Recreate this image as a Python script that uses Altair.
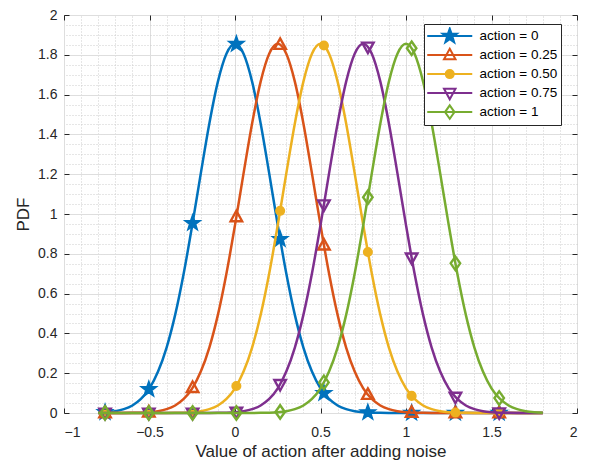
import altair as alt
import pandas as pd

# ---------------- data ----------------
x_curve = [-0.80, -0.75, -0.70, -0.65, -0.60, -0.55, -0.50, -0.45, -0.40, -0.35,
           -0.30, -0.25, -0.20, -0.15, -0.10, -0.05, 0.00, 0.05, 0.10, 0.15,
           0.20, 0.25, 0.30, 0.35, 0.40, 0.45, 0.50, 0.55, 0.60, 0.65,
           0.70, 0.75, 0.80, 0.85, 0.90, 0.95, 1.00, 1.05, 1.10, 1.15,
           1.20, 1.25, 1.30, 1.35, 1.40, 1.45, 1.50, 1.55, 1.60, 1.65,
           1.70, 1.75, 1.80]

y_a0 = [0.0018, 0.0042, 0.0093, 0.0193, 0.0378, 0.0705, 0.124, 0.208, 0.329, 0.493,
        0.701, 0.944, 1.204, 1.455, 1.665, 1.805, 1.855, 1.805, 1.665, 1.455,
        1.204, 0.944, 0.701, 0.493, 0.329, 0.208, 0.124, 0.0705, 0.0378, 0.0193,
        0.0093, 0.0042, 0.0018, 0.0008, 0.0003, 0.0001, 0, 0, 0, 0,
        0, 0, 0, 0, 0, 0, 0, 0, 0, 0,
        0, 0, 0]
y_a025 = [0, 0, 0.0001, 0.0003, 0.0008, 0.0018, 0.0042, 0.0093, 0.0193, 0.0378,
          0.0705, 0.124, 0.208, 0.329, 0.493, 0.701, 0.944, 1.204, 1.455, 1.665,
          1.805, 1.855, 1.805, 1.665, 1.455, 1.204, 0.944, 0.701, 0.493, 0.329,
          0.208, 0.124, 0.0705, 0.0378, 0.0193, 0.0093, 0.0042, 0.0018, 0.0008, 0.0003,
          0.0001, 0, 0, 0, 0, 0, 0, 0, 0, 0,
          0, 0, 0]
y_a050 = [0, 0, 0, 0, 0, 0, 0, 0.0001, 0.0003, 0.0008,
          0.0018, 0.0042, 0.0093, 0.0193, 0.0378, 0.0705, 0.124, 0.208, 0.329, 0.493,
          0.701, 0.944, 1.204, 1.455, 1.665, 1.805, 1.855, 1.805, 1.665, 1.455,
          1.204, 0.944, 0.701, 0.493, 0.329, 0.208, 0.124, 0.0705, 0.0378, 0.0193,
          0.0093, 0.0042, 0.0018, 0.0008, 0.0003, 0.0001, 0, 0, 0, 0,
          0, 0, 0]
y_a075 = [0, 0, 0, 0, 0, 0, 0, 0, 0, 0,
          0, 0, 0.0001, 0.0003, 0.0008, 0.0018, 0.0042, 0.0093, 0.0193, 0.0378,
          0.0705, 0.124, 0.208, 0.329, 0.493, 0.701, 0.944, 1.204, 1.455, 1.665,
          1.805, 1.855, 1.805, 1.665, 1.455, 1.204, 0.944, 0.701, 0.493, 0.329,
          0.208, 0.124, 0.0705, 0.0378, 0.0193, 0.0093, 0.0042, 0.0018, 0.0008, 0.0003,
          0.0001, 0, 0]
y_a1 = [0, 0, 0, 0, 0, 0, 0, 0, 0, 0,
        0, 0, 0, 0, 0, 0, 0, 0.0001, 0.0003, 0.0008,
        0.0018, 0.0042, 0.0093, 0.0193, 0.0378, 0.0705, 0.124, 0.208, 0.329, 0.493,
        0.701, 0.944, 1.204, 1.455, 1.665, 1.805, 1.855, 1.805, 1.665, 1.455,
        1.204, 0.944, 0.701, 0.493, 0.329, 0.208, 0.124, 0.0705, 0.0378, 0.0193,
        0.0093, 0.0042, 0.0018]

marker_x = [-0.76, -0.504, -0.248, 0.008, 0.264, 0.52, 0.777, 1.033, 1.289, 1.545]
m_a0 = [0.0036, 0.119, 0.954, 1.854, 0.873, 0.0998, 0.0027, 0.0, 0.0, 0.0]
m_a025 = [0.0, 0.004, 0.127, 0.985, 1.851, 0.843, 0.0922, 0.0025, 0.0, 0.0]
m_a050 = [0.0, 0.0, 0.0044, 0.1355, 1.016, 1.847, 0.809, 0.086, 0.0022, 0.0]
m_a075 = [0.0, 0.0, 0.0, 0.0048, 0.1444, 1.047, 1.840, 0.780, 0.0802, 0.002]
m_a1 = [0.0, 0.0, 0.0, 0.0, 0.0053, 0.1536, 1.084, 1.833, 0.752, 0.0748]

labels = ["action = 0", "action = 0.25", "action = 0.50", "action = 0.75", "action = 1"]
curves = [y_a0, y_a025, y_a050, y_a075, y_a1]
markers = [m_a0, m_a025, m_a050, m_a075, m_a1]

x_major = [-1, -0.5, 0, 0.5, 1, 1.5, 2]
y_major = [0, 0.2, 0.4, 0.6, 0.8, 1, 1.2, 1.4, 1.6, 1.8, 2]

# ---------------- style ----------------
colors = ["#0072BD", "#D95319", "#EDB120", "#7E2F8E", "#77AC30"]
STAR = ("M0,-1.5L0.353,-0.485L1.427,-0.464L0.571,0.185L0.882,1.214L0,0.6"
        "L-0.882,1.214L-0.571,0.185L-1.427,-0.464L-0.353,-0.485Z")
TRI_UP = "M0,-1.25L1.15,0.85L-1.15,0.85Z"
CIRCLE = "M0.8,0A0.8,0.8,0,1,1,-0.8,0A0.8,0.8,0,1,1,0.8,0Z"
TRI_DOWN = "M0,1.25L1.15,-0.85L-1.15,-0.85Z"
DIAMOND = "M0,-1.35L0.95,0L0,1.35L-0.95,0Z"
shapes = [STAR, TRI_UP, CIRCLE, TRI_DOWN, DIAMOND]
solid = [True, False, True, False, False]
LEG_LINE = "M-4.5,0L4.5,0"
legend_shapes = [LEG_LINE + s for s in shapes]
legend_fills = [colors[i] if solid[i] else "white" for i in range(5)]

FONT = "Liberation Sans"
TXT = "#262626"
W, H = 513, 398

curve_df = pd.DataFrame({
    "x": x_curve * 5,
    "y": sum(curves, []),
    "series": [lab for lab in labels for _ in x_curve],
})
marker_df = pd.DataFrame({
    "x": marker_x * 5,
    "y": sum(markers, []),
    "series": [lab for lab in labels for _ in marker_x],
})

x_scale = alt.Scale(domain=[-1, 2], nice=False, zero=False)
y_scale = alt.Scale(domain=[0, 2], nice=False, zero=False)

# minor grid (dotted)
minor = alt.Chart(curve_df).mark_point(opacity=0).encode(
    x=alt.X("x:Q", scale=x_scale, axis=alt.Axis(
        orient="top", tickCount=30, grid=True, gridDash=[1, 2], gridColor="#cdcdcd",
        labels=False, ticks=False, domain=False, title=None)),
    y=alt.Y("y:Q", scale=y_scale, axis=alt.Axis(
        orient="right", tickCount=40, grid=True, gridDash=[1, 2], gridColor="#cdcdcd",
        labels=False, ticks=False, domain=False, title=None)),
)

# major grid + labels
major = alt.Chart(curve_df).mark_point(opacity=0).encode(
    x=alt.X("x:Q", scale=x_scale, axis=alt.Axis(
        orient="bottom", values=x_major, format="~g",
        grid=True, gridColor="#dedede", ticks=False, domain=False,
        labelFontSize=14, labelColor=TXT, labelPadding=12,
        title="Value of action after adding noise", titleFontSize=17,
        titleFontWeight="normal", titleColor=TXT, titlePadding=4)),
    y=alt.Y("y:Q", scale=y_scale, axis=alt.Axis(
        orient="left", values=y_major, format="~g",
        grid=True, gridColor="#dedede", ticks=False, domain=False,
        labelFontSize=14, labelColor=TXT, labelPadding=7,
        title="PDF", titleFontSize=17, titleFontWeight="normal", titleColor=TXT,
        titlePadding=5)),
)

# inward tick marks (MATLAB box style): axes pushed across the plot
def tick_axis(orient, values, offset):
    return alt.Axis(orient=orient, values=values, offset=offset, ticks=True, tickSize=5,
                    tickColor=TXT, tickWidth=1, labels=False, domain=False, grid=False,
                    title=None)

ticks_a = alt.Chart(curve_df).mark_point(opacity=0).encode(
    x=alt.X("x:Q", scale=x_scale, axis=tick_axis("top", x_major, -H)),
    y=alt.Y("y:Q", scale=y_scale, axis=tick_axis("right", y_major, -W)),
)
ticks_b = alt.Chart(curve_df).mark_point(opacity=0).encode(
    x=alt.X("x:Q", scale=x_scale, axis=tick_axis("bottom", x_major, -H)),
    y=alt.Y("y:Q", scale=y_scale, axis=tick_axis("left", y_major, -W)),
)

layers = [minor, major, ticks_a, ticks_b]
for i, lab in enumerate(labels):
    line = alt.Chart(curve_df[curve_df.series == lab]).mark_line(
        color=colors[i], strokeWidth=2.5, interpolate="monotone").encode(
        x=alt.X("x:Q", scale=x_scale, axis=None),
        y=alt.Y("y:Q", scale=y_scale, axis=None),
    )
    if solid[i]:
        pts = alt.Chart(marker_df[marker_df.series == lab]).mark_point(
            shape=shapes[i], size=115, filled=True, fill=colors[i], stroke=colors[i],
            strokeWidth=1.5, opacity=1)
    else:
        pts = alt.Chart(marker_df[marker_df.series == lab]).mark_point(
            shape=shapes[i], size=100, filled=False, stroke=colors[i],
            strokeWidth=2.4, opacity=1)
    pts = pts.encode(
        x=alt.X("x:Q", scale=x_scale, axis=None),
        y=alt.Y("y:Q", scale=y_scale, axis=None),
    )
    layers += [line, pts]

leg = alt.Legend(
    title=None, orient="none", legendX=360, legendY=9,
    strokeColor=TXT, fillColor="white", padding=3, cornerRadius=0,
    labelFontSize=13.5, labelColor="black", labelFont=FONT,
    symbolSize=100, symbolStrokeWidth=2, symbolOffset=16, labelOffset=23,
    rowPadding=0, clipHeight=18.2,
)
legend_layer = alt.Chart(marker_df).transform_filter("false").mark_point(
    filled=False, strokeWidth=2, size=100, opacity=1).encode(
    x=alt.X("x:Q", scale=x_scale, axis=None),
    y=alt.Y("y:Q", scale=y_scale, axis=None),
    stroke=alt.Stroke("series:N", scale=alt.Scale(domain=labels, range=colors), legend=leg),
    fill=alt.Fill("series:N", scale=alt.Scale(domain=labels, range=legend_fills), legend=leg),
    shape=alt.Shape("series:N", scale=alt.Scale(domain=labels, range=legend_shapes), legend=leg),
)
layers.append(legend_layer)

chart = alt.layer(*layers).resolve_axis(x="independent", y="independent").properties(
    width=W, height=H, autosize="none",
    padding={"left": 56, "top": 7, "right": 7, "bottom": 48},
).configure(font=FONT).configure_view(stroke=TXT, strokeWidth=1)

chart.save("out.html", embed_options={"renderer": "svg", "actions": False})
